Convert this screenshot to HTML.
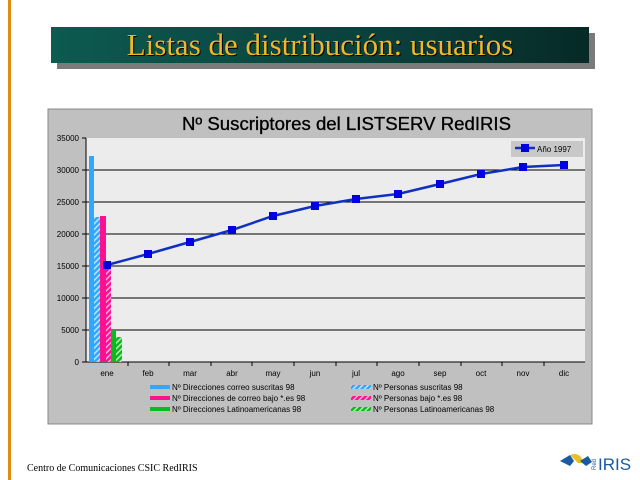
<!DOCTYPE html>
<html><head><meta charset="utf-8"><style>
body{margin:0;width:640px;height:480px;background:#fff;overflow:hidden;position:relative;font-family:"Liberation Sans",sans-serif}
.bar{position:absolute;left:8px;top:0;width:3px;height:480px;background:#e08a10}
.tbox{position:absolute;left:51px;top:27px;width:538px;height:36px;background:linear-gradient(90deg,#0c5a50,#0a3c38 70%,#062a26);box-shadow:6px 6px 0 #7a7a7a;text-align:center;font-family:"Liberation Serif",serif;font-size:31px;color:#f0b828;line-height:36px;text-shadow:1px 1px 0 #000}
.foot{position:absolute;left:27px;top:463px;font-family:"Liberation Serif",serif;font-size:10px;color:#000}
</style></head><body>
<div class="bar"></div>
<div class="tbox">Listas de distribución: usuarios</div>
<svg width="640" height="480" style="position:absolute;left:0;top:0">
<defs>
<pattern id="hb" width="4" height="4" patternUnits="userSpaceOnUse" patternTransform="rotate(45)"><rect width="4" height="4" fill="#30a8ff"/><rect width="1.5" height="4" fill="#c0e4ff"/></pattern>
<pattern id="hp" width="4" height="4" patternUnits="userSpaceOnUse" patternTransform="rotate(45)"><rect width="4" height="4" fill="#ff1090"/><rect width="1.5" height="4" fill="#ffb0d8"/></pattern>
<pattern id="hg" width="4" height="4" patternUnits="userSpaceOnUse" patternTransform="rotate(45)"><rect width="4" height="4" fill="#10b820"/><rect width="1.5" height="4" fill="#b0f0b0"/></pattern>
</defs>
<rect x="48" y="109" width="544" height="315" fill="#c0c0c0" stroke="#888"/>
<text x="182" y="130" font-size="18" textLength="329" lengthAdjust="spacingAndGlyphs" fill="#000" stroke="#000" stroke-width="0.3">Nº Suscriptores del LISTSERV RedIRIS</text>
<rect x="86" y="138" width="499" height="224" fill="#ececec"/>
<g stroke="#000" stroke-width="1">
<line x1="86" x2="585" y1="170" y2="170"/><line x1="86" x2="585" y1="202" y2="202"/><line x1="86" x2="585" y1="234" y2="234"/><line x1="86" x2="585" y1="266" y2="266"/><line x1="86" x2="585" y1="298" y2="298"/><line x1="86" x2="585" y1="330" y2="330"/>
<line x1="86" x2="585" y1="362" y2="362"/><line x1="86" x2="86" y1="138" y2="362"/>
<line x1="82" x2="86" y1="138" y2="138"/><line x1="82" x2="86" y1="170" y2="170"/><line x1="82" x2="86" y1="202" y2="202"/><line x1="82" x2="86" y1="234" y2="234"/><line x1="82" x2="86" y1="266" y2="266"/><line x1="82" x2="86" y1="298" y2="298"/><line x1="82" x2="86" y1="330" y2="330"/><line x1="82" x2="86" y1="362" y2="362"/>
</g>
<g stroke="#000"><line x1="128" x2="128" y1="362" y2="366"/><line x1="169" x2="169" y1="362" y2="366"/><line x1="211" x2="211" y1="362" y2="366"/><line x1="252" x2="252" y1="362" y2="366"/><line x1="294" x2="294" y1="362" y2="366"/><line x1="336" x2="336" y1="362" y2="366"/><line x1="377" x2="377" y1="362" y2="366"/><line x1="419" x2="419" y1="362" y2="366"/><line x1="461" x2="461" y1="362" y2="366"/><line x1="502" x2="502" y1="362" y2="366"/><line x1="544" x2="544" y1="362" y2="366"/></g>
<g font-size="8" text-anchor="end" fill="#000"><text x="79" y="141">35000</text><text x="79" y="173">30000</text><text x="79" y="205">25000</text><text x="79" y="237">20000</text><text x="79" y="269">15000</text><text x="79" y="301">10000</text><text x="79" y="333">5000</text><text x="79" y="365">0</text></g>
<g font-size="8" text-anchor="middle" fill="#000"><text x="107" y="376">ene</text><text x="148" y="376">feb</text><text x="190" y="376">mar</text><text x="232" y="376">abr</text><text x="273" y="376">may</text><text x="315" y="376">jun</text><text x="356" y="376">jul</text><text x="398" y="376">ago</text><text x="440" y="376">sep</text><text x="481" y="376">oct</text><text x="523" y="376">nov</text><text x="564" y="376">dic</text></g>
<rect x="89" y="156" width="5" height="206" fill="#30a8ff"/>
<rect x="94" y="217" width="6" height="145" fill="url(#hb)"/>
<rect x="100" y="216" width="6" height="146" fill="#ff1090"/>
<rect x="106" y="264" width="5" height="98" fill="url(#hp)"/>
<rect x="111" y="330" width="5" height="32" fill="#10b820"/>
<rect x="116" y="337" width="6" height="25" fill="url(#hg)"/>
<polyline fill="none" stroke="#1030c0" stroke-width="2.5" points="107,265 148,254 190,242 232,230 273,216 315,206 356,199 398,194 440,184 481,174 523,167 564,165"/>
<g fill="#0000e0"><rect x="103" y="261" width="8" height="8"/><rect x="144" y="250" width="8" height="8"/><rect x="186" y="238" width="8" height="8"/><rect x="228" y="226" width="8" height="8"/><rect x="269" y="212" width="8" height="8"/><rect x="311" y="202" width="8" height="8"/><rect x="352" y="195" width="8" height="8"/><rect x="394" y="190" width="8" height="8"/><rect x="436" y="180" width="8" height="8"/><rect x="477" y="170" width="8" height="8"/><rect x="519" y="163" width="8" height="8"/><rect x="560" y="161" width="8" height="8"/></g>
<rect x="511" y="141" width="72" height="16" fill="#c8c8c8"/>
<line x1="515" x2="535" y1="148" y2="148" stroke="#1030c0" stroke-width="2.5"/><rect x="521" y="144" width="8" height="8" fill="#0000e0"/>
<text x="537" y="152" font-size="8" fill="#000">Año 1997</text>
<rect x="150" y="385" width="20" height="4" fill="#30a8ff"/><rect x="150" y="396" width="20" height="4" fill="#ff1090"/><rect x="150" y="407" width="20" height="4" fill="#10b820"/>
<rect x="351" y="385" width="20" height="4" fill="url(#hb)"/><rect x="351" y="396" width="20" height="4" fill="url(#hp)"/><rect x="351" y="407" width="20" height="4" fill="url(#hg)"/>
<g font-size="8" fill="#000"><text x="172" y="390">Nº Direcciones correo suscritas 98</text><text x="172" y="401">Nº Direcciones de correo bajo *.es 98</text><text x="172" y="412">Nº Direcciones Latinoamericanas 98</text>
<text x="373" y="390">Nº Personas suscritas 98</text><text x="373" y="401">Nº Personas bajo *.es 98</text><text x="373" y="412">Nº Personas  Latinoamericanas 98</text></g>
<g><polygon points="560,461 570,455 574,461 570,466" fill="#1a5aa0"/><path d="M570,455 q10,-4 14,8 l-6,0 z" fill="#e8c020"/><polygon points="580,461 588,456 592,462 586,466" fill="#1a5aa0"/></g>
<text x="598" y="470" font-size="17" fill="#1a5aa0">IRIS</text>
<text x="596" y="470" font-size="6" fill="#1a5aa0" transform="rotate(-90 596 470)">Red</text>
</svg>
<div class="foot">Centro de Comunicaciones CSIC RedIRIS</div>
</body></html>
